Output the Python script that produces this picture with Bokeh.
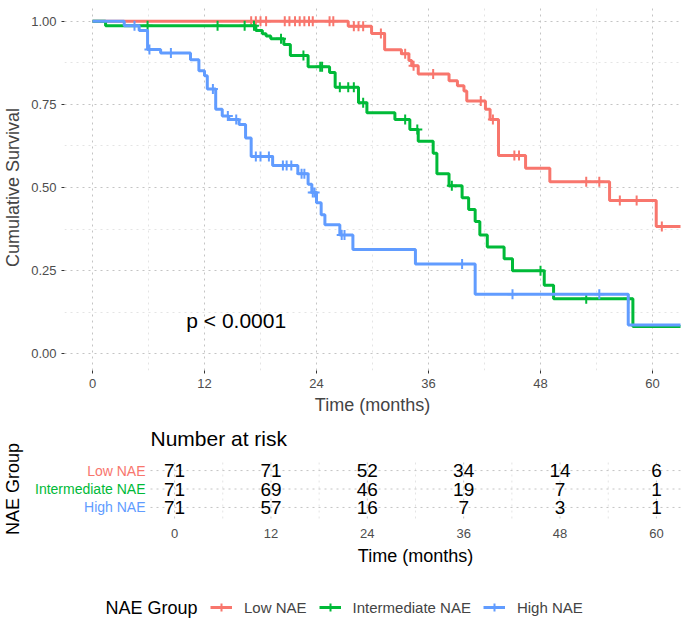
import numpy as np
from bokeh.plotting import figure
from bokeh.models import (Range1d, FixedTicker, Label, Legend, LegendItem,
                          PrintfTickFormatter)
from bokeh.layouts import column
from bokeh.core.properties import value
from bokeh.embed import file_html
from bokeh.resources import INLINE

# ---------------- data ----------------
groups = ["Low NAE", "Intermediate NAE", "High NAE"]
colors = ["#F8766D", "#00BA38", "#619CFF"]

low_time = [0, 27.4, 29.9, 31.3, 33.1, 33.9, 34.2, 34.9, 38.2, 39.1, 39.8, 40.1,
            42.1, 42.6, 43.5, 46.4, 49.0, 55.4, 60.4, 66]
low_surv = [1.0, 0.985, 0.963, 0.914, 0.902, 0.882, 0.866, 0.841, 0.821, 0.806,
            0.790, 0.760, 0.735, 0.704, 0.596, 0.558, 0.517, 0.461, 0.383, 0.383]
low_cens = [17.0, 17.5, 18.0, 18.6, 20.6, 21.1, 21.7, 22.2, 22.7, 23.2, 23.6,
            25.4, 25.8, 28.0, 28.5, 29.0, 30.9, 33.5, 34.4, 36.5, 41.6, 42.9,
            45.2, 45.7, 52.9, 54.3, 56.5, 58.3, 61.0]

int_time = [0, 1.4, 17.5, 18.2, 18.6, 19.1, 20.5, 21.2, 23.1, 25.4, 26.0, 28.5,
            29.4, 32.4, 34.0, 34.9, 36.5, 36.9, 38.2, 39.6, 40.3, 41.0, 41.5,
            42.3, 44.1, 45.0, 48.4, 49.4, 57.9, 66]
int_surv = [1.0, 0.986, 0.972, 0.962, 0.955, 0.947, 0.930, 0.897, 0.863, 0.846,
            0.801, 0.755, 0.725, 0.704, 0.674, 0.639, 0.603, 0.541, 0.505, 0.469,
            0.434, 0.398, 0.357, 0.321, 0.286, 0.250, 0.206, 0.166, 0.082, 0.082]
int_cens = [5.9, 13.4, 16.3, 17.3, 20.2, 22.6, 24.4, 24.6, 26.5, 27.4, 28.0,
            29.0, 33.5, 34.8, 38.5, 48.0, 52.9, 57.4]

high_time = [0, 3.4, 5.0, 5.9, 7.3, 10.5, 11.4, 12.0, 12.3, 13.2, 13.9, 14.6,
             15.7, 16.4, 17.0, 19.3, 22.0, 23.1, 23.5, 24.0, 24.5, 24.9, 26.5,
             27.9, 34.6, 41.0, 57.4, 66]
high_surv = [1.0, 0.986, 0.972, 0.915, 0.904, 0.884, 0.851, 0.836, 0.796, 0.735,
             0.715, 0.704, 0.689, 0.649, 0.593, 0.566, 0.541, 0.510, 0.485,
             0.454, 0.418, 0.388, 0.357, 0.314, 0.270, 0.179, 0.087, 0.087]
high_cens = [4.5, 6.1, 8.4, 12.9, 14.5, 15.4, 17.5, 18.0, 18.9, 20.4, 20.8,
             21.3, 22.4, 22.7, 23.6, 23.8, 26.7, 27.0, 39.6, 45.0, 54.3]

risk_times = [0, 12, 24, 36, 48, 60]
risk_low = [71, 71, 52, 34, 14, 6]
risk_int = [71, 69, 46, 19, 7, 1]
risk_high = [71, 57, 16, 7, 3, 1]

x_ticks = [0, 12, 24, 36, 48, 60]
x_minor = [6, 18, 30, 42, 54]
y_ticks = [0, 0.25, 0.5, 0.75, 1.0]
y_minor = [0.125, 0.375, 0.625, 0.875]
pval_text = "p < 0.0001"

FONT = "Liberation Sans"
MAJ = "#c4c4c4"
MIN = "#e4e4e4"
W = 684
LEFT = 63
RIGHT = 4


def style_grid(g):
    g.grid_line_color = MAJ
    g.grid_line_dash = "2 4"
    g.grid_line_width = 1
    g.minor_grid_line_color = MIN
    g.minor_grid_line_dash = "2 4"
    g.minor_grid_line_width = 1


# ---------------- survival plot ----------------
p1 = figure(width=W, height=420, x_range=Range1d(-3, 63), y_range=Range1d(-0.05, 1.05),
            output_backend="svg", toolbar_location=None,
            min_border_left=LEFT, min_border_right=RIGHT, min_border_top=4,
            min_border_bottom=50)
p1.frame_align = False
p1.outline_line_color = None
p1.xaxis.ticker = FixedTicker(ticks=x_ticks, minor_ticks=x_minor)
p1.yaxis.ticker = FixedTicker(ticks=y_ticks, minor_ticks=y_minor)
p1.yaxis.formatter = PrintfTickFormatter(format="%.2f")
style_grid(p1.xgrid)
style_grid(p1.ygrid)
p1.axis.axis_line_color = None
p1.axis.major_tick_line_color = "#333333"
p1.axis.major_tick_out = 3
p1.axis.major_tick_in = 0
p1.axis.minor_tick_line_color = None
p1.axis.major_label_text_color = "#4D4D4D"
p1.axis.major_label_text_font_size = "13px"
p1.axis.major_label_text_font = FONT
p1.axis.major_label_standoff = 4
p1.axis.axis_label_text_font = FONT
p1.axis.axis_label_text_font_size = "18px"
p1.axis.axis_label_text_font_style = "normal"
p1.xaxis.axis_label = "Time (months)"
p1.yaxis.axis_label = "Cumulative Survival"
p1.yaxis.axis_label_standoff = 5
p1.xaxis.axis_label_standoff = 4

curves = [(low_time, low_surv, low_cens), (int_time, int_surv, int_cens),
          (high_time, high_surv, high_cens)]
for (t, s, c), col in zip(curves, colors):
    p1.step(x=t, y=s, mode="after", line_color=col, line_width=3)
    ta = np.array(t)
    sa = np.array(s)
    idx = np.searchsorted(ta, np.array(c), side="right") - 1
    p1.scatter(x=c, y=list(sa[idx]), marker="cross", size=10, line_width=2,
               line_color=col)

p1.add_layout(Label(x=15.4, y=0.1, text=pval_text, text_align="center",
                    text_baseline="middle", text_font=FONT, text_font_size="21px",
                    text_color="black"))

# ---------------- risk table (frame covers the whole canvas) ----------------
rows = [3, 2, 1]
T_LO, T_HI = -3, 63            # table panel data range (x)
R_LO, R_HI = 0.4, 3.6          # table panel data range (y)
H2 = 150
PANEL_LEFT, PANEL_TOP, PANEL_BOTTOM = 150, 39, 98   # pixels inside this figure
sx = (W - RIGHT - PANEL_LEFT) / (T_HI - T_LO)
sy = (PANEL_BOTTOM - PANEL_TOP) / (R_HI - R_LO)
x0 = T_LO - PANEL_LEFT / sx
x1 = T_HI + RIGHT / sx
y1 = R_HI + PANEL_TOP / sy
y0 = R_LO - (H2 - PANEL_BOTTOM) / sy

p2 = figure(width=W, height=H2, x_range=Range1d(x0, x1), y_range=Range1d(y0, y1),
            output_backend="svg", toolbar_location=None, min_border=0)
p2.frame_align = False
p2.outline_line_color = None
p2.axis.visible = False
p2.grid.visible = False

# grid lines of the table panel
p2.segment(x0=x_ticks, x1=x_ticks, y0=[R_LO] * len(x_ticks), y1=[R_HI] * len(x_ticks),
           line_color=MAJ, line_dash="2 4", line_width=1)
p2.segment(x0=x_minor, x1=x_minor, y0=[R_LO] * len(x_minor), y1=[R_HI] * len(x_minor),
           line_color=MIN, line_dash="2 4", line_width=1)
p2.segment(x0=[T_LO] * 3, x1=[T_HI] * 3, y0=rows, y1=rows, line_color=MAJ,
           line_dash="2 4", line_width=1)

for r, vals in zip(rows, [risk_low, risk_int, risk_high]):
    p2.text(x=risk_times, y=[r] * len(risk_times), text=[str(v) for v in vals],
            text_font=value(FONT), text_font_size=value("19px"),
            text_align="center", text_baseline="middle", text_color="black")

# tick labels below the table panel
p2.text(x=x_ticks, y=[R_LO - 15 / sy] * len(x_ticks), text=[str(v) for v in x_ticks],
        text_font=value(FONT), text_font_size=value("13px"), text_align="center",
        text_baseline="middle", text_color="#4D4D4D")
p2.add_layout(Label(x=(T_LO + T_HI) / 2, y=R_LO - 37 / sy, text="Time (months)",
                    text_align="center", text_baseline="middle", text_color="black",
                    text_font=FONT, text_font_size="18px"))
p2.add_layout(Label(x=T_LO, y=R_HI + 21 / sy, text="Number at risk", text_align="left",
                    text_baseline="middle", text_color="black", text_font=FONT,
                    text_font_size="21px"))
for r, name, col in zip(rows, groups, colors):
    p2.add_layout(Label(x=T_LO, y=r, x_offset=-5, text=name, text_align="right",
                        text_baseline="middle", text_color=col, text_font=FONT,
                        text_font_size="14px"))
p2.add_layout(Label(x=T_LO, y=2, x_offset=-138, text="NAE Group", angle=90,
                    angle_units="deg", text_align="center", text_baseline="middle",
                    text_color="black", text_font=FONT, text_font_size="18px"))

# ---------------- legend ----------------
p3 = figure(width=W, height=52, x_range=Range1d(0, W), y_range=Range1d(0, 52),
            output_backend="svg", toolbar_location=None, min_border=0)
p3.frame_align = False
p3.outline_line_color = None
p3.axis.visible = False
p3.grid.visible = False
p3.text(x=[105], y=[15], text=["NAE Group"], text_font=value(FONT),
        text_font_size=value("18px"), text_align="left", text_baseline="middle",
        text_color="black")
items = []
for name, col in zip(groups, colors):
    rl = p3.line(x=[np.nan, np.nan], y=[np.nan, np.nan], line_color=col, line_width=3)
    rs = p3.scatter(x=[np.nan], y=[np.nan], marker="cross", size=10, line_width=2,
                    line_color=col)
    items.append(LegendItem(label=name, renderers=[rl, rs]))
leg = Legend(items=items, orientation="horizontal", location=(210, 5),
             border_line_color=None, background_fill_alpha=0,
             label_text_font=FONT, label_text_font_size="15px",
             glyph_width=22, glyph_height=20, spacing=12, padding=0, margin=0,
             label_standoff=12)
p3.add_layout(leg, "center")

layout = column(p1, p2, p3, spacing=0)
open("out.html", "w").write(file_html(layout, INLINE))
